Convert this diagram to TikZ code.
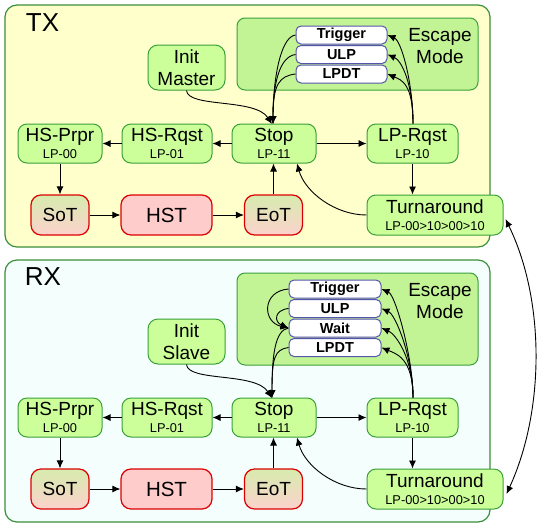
\documentclass[tikz,border=0pt]{standalone}
\usepackage{fontspec}
\setmainfont{Liberation Sans}
\usetikzlibrary{arrows.meta,shadings,calc}
\definecolor{panelborder}{HTML}{3A8F3A}
\definecolor{txfill}{HTML}{FFFFCC}
\definecolor{rxfill}{HTML}{F4FEFD}
\definecolor{gfill}{HTML}{CCFF99}
\definecolor{gborder}{HTML}{3AA03A}
\definecolor{escfill}{HTML}{C2F496}
\definecolor{rfill}{HTML}{FFCCCC}
\definecolor{rborder}{HTML}{DD0000}
\definecolor{bborder}{HTML}{5555AA}
\definecolor{mtop}{HTML}{D6EBAE}
\definecolor{mbot}{HTML}{FCD2CC}
\tikzset{
  panel/.style={draw=panelborder,line width=1.2pt,rounded corners=12pt},
  escarea/.style={draw=gborder,fill=escfill,line width=1pt,rounded corners=8pt},
  gstate/.style={draw=gborder,fill=gfill,line width=1pt,rounded corners=9pt,align=center,inner sep=0pt,minimum height=39pt,font=\fontsize{12.8}{17}\selectfont},
  rstate/.style={draw=rborder,fill=rfill,line width=1.2pt,rounded corners=10pt,inner sep=0pt,minimum height=40pt,font=\fontsize{20.5}{20}\selectfont},
  mstate/.style={draw=rborder,line width=1.2pt,rounded corners=10pt,inner sep=0pt,minimum height=40pt,font=\fontsize{19}{19}\selectfont,
     shade,shading angle=30,top color=mtop,bottom color=mbot},
  esc/.style={draw=bborder,fill=white,line width=1pt,rounded corners=5pt,inner sep=0pt,minimum height=18pt,minimum width=91pt,font=\fontsize{14.5}{14}\selectfont\bfseries},
  arr/.style={-{Latex[length=8pt,width=7pt]},line width=0.9pt,black},
  big/.style={font=\fontsize{19}{22}\selectfont},
  title/.style={font=\fontsize{26}{26}\selectfont},
}
\newcommand{\st}[2]{{\fontsize{19}{17}\selectfont #1}\\#2}
\begin{document}
\begin{tikzpicture}[x=1pt,y=-1pt]
\useasboundingbox (0,0) rectangle (546,528);
% ===== TX panel =====
\path[panel,fill=txfill] (5,5) rectangle (490,247);
\node[title] (txt) at (42.5,23) {TX};
\path[escarea] (237,18) rectangle (478,90);
\node[big,align=center] (txesc) at (440,46) {Escape\\Mode};
\node[esc] (ttrig) at (341.5,35) {Trigger};
\node[esc] (tulp) at (341.5,54.5) {ULP};
\node[esc] (tlpdt) at (341.5,74) {LPDT};
\node[gstate,minimum width=77pt,minimum height=45pt,rounded corners=10pt,big] (tinit) at (186.5,67.5) {Init\\Master};
\node[gstate,minimum width=84pt] (thsp) at (60,143.5) {\st{HS-Prpr}{LP-00}};
\node[gstate,minimum width=90pt] (thsr) at (167,143.5) {\st{HS-Rqst}{LP-01}};
\node[gstate,minimum width=84pt] (tstop) at (274,143.5) {\st{Stop}{LP-11}};
\node[gstate,minimum width=91pt] (tlpr) at (412.5,143.5) {\st{LP-Rqst}{LP-10}};
\node[mstate,minimum width=58pt] (tsot) at (60,215) {SoT};
\node[rstate,minimum width=91pt] (thst) at (166.5,215) {HST};
\node[mstate,minimum width=58pt] (teot) at (273.5,215) {EoT};
\node[gstate,minimum width=136pt,minimum height=40pt] (tturn) at (435,215) {\st{Turnaround}{LP-00>10>00>10}};
% TX arrows
\draw[arr] (tstop) -- (thsr);
\draw[arr] (thsr) -- (thsp);
\draw[arr] (thsp) -- (tsot);
\draw[arr] (tsot) -- (thst);
\draw[arr] (thst) -- (teot);
\draw[arr] (teot.north) -- (teot.north |- tstop.south);
\draw[arr] (tstop) -- (tlpr);
\draw[arr] (tlpr.south) -- (tlpr.south |- tturn.north);
\draw[arr] (tturn.west) .. controls (335,215) and (305,192) .. (297,163.5);
\draw[arr] (tinit.south) .. controls (188,108) and (255,98) .. (272,124);
\coordinate (tstoptop) at (273,124);
\coordinate (tlprtop) at (413,123.5);
\foreach \b in {ttrig,tulp,tlpdt}{
  \draw[arr] (\b.west) .. controls ++(-16,2) and ++(0,-40) .. (tstoptop);
  \draw[arr] (tlprtop) .. controls ++(0,-40) and ++(14,6) .. (\b.east);
}
% ===== RX panel =====
\path[panel,fill=rxfill] (5,260) rectangle (490,522);
\node[title] (rxt) at (43,277) {RX};
\path[escarea] (237,273) rectangle (478,365);
\node[big,align=center] (rxesc) at (440,301) {Escape\\Mode};
\node[esc,minimum width=92pt] (rtrig) at (335,289) {Trigger};
\node[esc,minimum width=92pt] (rulp) at (335,308.5) {ULP};
\node[esc,minimum width=92pt] (rwait) at (335,328) {Wait};
\node[esc,minimum width=92pt] (rlpdt) at (335,347.5) {LPDT};
\node[gstate,minimum width=77pt,minimum height=45pt,rounded corners=10pt,big] (rinit) at (186.5,341.5) {Init\\Slave};
\node[gstate,minimum width=84pt] (rhsp) at (60,417.5) {\st{HS-Prpr}{LP-00}};
\node[gstate,minimum width=90pt] (rhsr) at (167,417.5) {\st{HS-Rqst}{LP-01}};
\node[gstate,minimum width=84pt] (rstop) at (274,417.5) {\st{Stop}{LP-11}};
\node[gstate,minimum width=91pt] (rlpr) at (412.5,417.5) {\st{LP-Rqst}{LP-10}};
\node[mstate,minimum width=58pt] (rsot) at (60,489) {SoT};
\node[rstate,minimum width=91pt] (rhst) at (166.5,489) {HST};
\node[mstate,minimum width=58pt] (reot) at (273.5,489) {EoT};
\node[gstate,minimum width=136pt,minimum height=40pt] (rturn) at (435,489) {\st{Turnaround}{LP-00>10>00>10}};
% RX arrows
\draw[arr] (rstop) -- (rhsr);
\draw[arr] (rhsr) -- (rhsp);
\draw[arr] (rhsp) -- (rsot);
\draw[arr] (rsot) -- (rhst);
\draw[arr] (rhst) -- (reot);
\draw[arr] (reot.north) -- (reot.north |- rstop.south);
\draw[arr] (rstop) -- (rlpr);
\draw[arr] (rlpr.south) -- (rlpr.south |- rturn.north);
\draw[arr] (rturn.west) .. controls (335,489) and (305,466) .. (297,437.5);
\draw[arr] (rinit.south) .. controls (188,382) and (255,372) .. (272,398);
\coordinate (rstoptop) at (272,398);
\coordinate (rlprtop) at (413,397.5);
\draw[arr] (rtrig.west) .. controls (262,291) and (262,322) .. (rwait.west);
\draw[arr] (rulp.west) .. controls (274,310) and (274,322) .. (rwait.west);
\foreach \b in {rwait,rlpdt}{
  \draw[arr] (\b.west) .. controls ++(-14,2) and ++(0,-40) .. (rstoptop);
}
\foreach \b in {rtrig,rulp,rwait,rlpdt}{
  \draw[arr] (rlprtop) .. controls ++(0,-40) and ++(14,6) .. (\b.east);
}
% TX <-> RX
\coordinate (ta) at ($(tturn.east)+(2,4)$);
\coordinate (ra) at ($(rturn.east)+(3,5)$);
\draw[{Latex[length=8pt,width=7pt]}-{Latex[length=8pt,width=7pt]},line width=0.9pt] (ta) .. controls (545,300) and (545,410) .. (ra);
\end{tikzpicture}
\end{document}
